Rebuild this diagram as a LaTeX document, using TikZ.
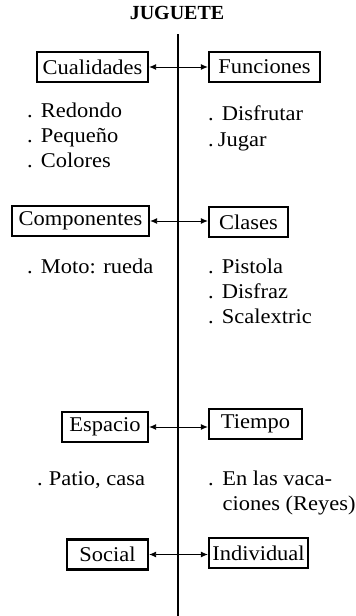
\documentclass[tikz,border=0pt]{standalone}
\usepackage{fontspec}
\setmainfont{Liberation Serif}[FakeStretch=1.07]
\newfontfamily\titlefont{Liberation Serif}
\usetikzlibrary{arrows.meta}
\begin{document}
\begin{tikzpicture}[x=1pt,y=-1pt,
  box/.style={draw,line width=2.3pt,minimum height=30pt,inner sep=0pt,
    font=\fontsize{21}{25}\selectfont},
  items/.style={anchor=base west,align=left,inner sep=0pt,
    font=\fontsize{21}{25}\selectfont},
  link/.style={{Latex[length=7pt,width=6pt]}-{Latex[length=7pt,width=6pt]},line width=0.9pt}]
\useasboundingbox (0,0) rectangle (356,616);
\node[anchor=base,inner sep=0pt,font=\titlefont\bfseries\fontsize{20}{24}\selectfont] (title) at (177,19) {JUGUETE};
\coordinate (top) at (178,34);
\coordinate (bot) at (178,616);
\draw[line width=2.2pt] (top) -- (bot);

\node[box,minimum width=111pt] (cual) at (92.5,67) {Cualidades};
\node[box,minimum width=111pt] (func) at (264.5,67) {Funciones};
\node[box,minimum width=137pt] (comp) at (80.5,221) {Componentes};
\node[box,minimum width=79pt] (clas) at (248.5,222) {Clases};
\node[box,minimum width=86pt] (espa) at (105,427) {Espacio};
\node[box,minimum width=93pt] (tiem) at (255.5,424) {Tiempo};
\node[box,minimum width=81pt] (soci) at (107.5,554.5) {Social};
\node[box,minimum width=99pt] (indi) at (258.5,553) {Individual};

\draw[link] (cual.east) -- (cual.east -| func.west);
\draw[link] (comp.east) -- (comp.east -| clas.west);
\draw[link] (espa.east) -- (espa.east -| tiem.west);
\draw[link] (soci.east) -- (soci.east -| indi.west);

\node[items] (l1) at (27,167) {.\hspace{8.2pt}Redondo\\.\hspace{8.2pt}Pequeño\\.\hspace{8.2pt}Colores};
\node[items] (r1) at (208,146) {.\hspace{8.2pt}Disfrutar\\[1pt].\hspace{4.2pt}Jugar};
\node[items] (l2) at (27,273) {.\hspace{8.2pt}Moto: rueda};
\node[items] (r2) at (208,323) {.\hspace{8.2pt}Pistola\\.\hspace{8.2pt}Disfraz\\.\hspace{8.2pt}Scalextric};
\node[items] (l3) at (37,485) {.\hspace{6.2pt}Patio, casa};
\node[items] (r3) at (208,510) {.\hspace{8.5pt}En las vaca-\\\hspace*{14.5pt}ciones (Reyes)};
\end{tikzpicture}
\end{document}
